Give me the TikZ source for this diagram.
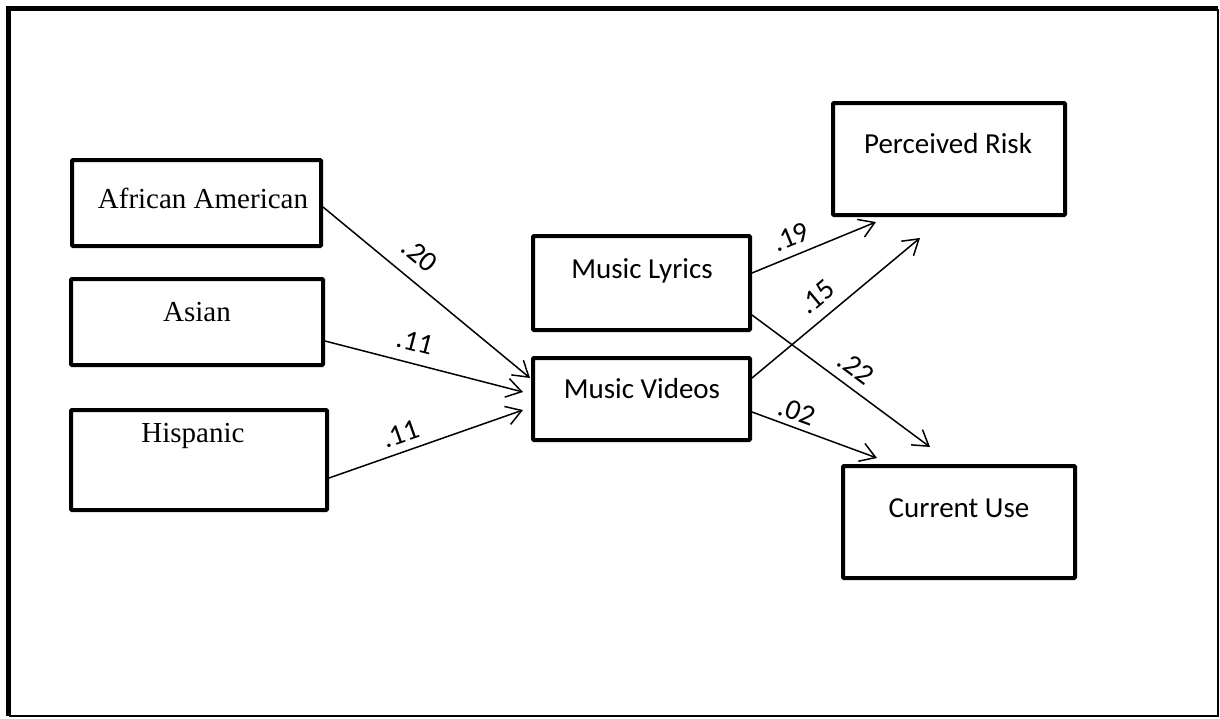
\documentclass[tikz,border=0pt]{standalone}
\usepackage{fontspec}
\setmainfont{Liberation Serif}
\newfontfamily\calibrifont{Carlito}
\usetikzlibrary{arrows.meta}
\tikzset{
  box/.style={draw, line width=4pt, rounded corners=1pt, inner sep=0pt},
  serifl/.style={anchor=base, inner sep=0pt, font=\fontsize{29}{34}\selectfont},
  sansl/.style={anchor=base, inner sep=0pt, font=\calibrifont\fontsize{29}{34}\selectfont},
  coef/.style={inner sep=0pt, font=\calibrifont\fontsize{29}{34}\selectfont},
  arr/.style={line width=1.5pt, -{Straight Barb[length=15pt, width=19pt]}},
}
\begin{document}
\begin{tikzpicture}[x=1pt, y=-1pt]
\useasboundingbox (0,0) rectangle (1220,718);
% frame
\draw[line width=5pt] (8.5,716) -- (8.5,8.5) -- (1218,8.5);
\draw[line width=1.5pt] (1218,8.5) -- (1218,716) -- (8.5,716);
% boxes
\node[box, minimum width=249pt, minimum height=86pt] (aa) at (196.5,203) {};
\node[box, minimum width=252pt, minimum height=86pt] (as) at (197,322) {};
\node[box, minimum width=256pt, minimum height=100pt] (hi) at (199,460) {};
\node[box, minimum width=217pt, minimum height=94pt] (ml) at (641.5,283) {};
\node[box, minimum width=217pt, minimum height=82pt] (mv) at (641.5,399) {};
\node[box, minimum width=232pt, minimum height=112pt] (pr) at (949,159) {};
\node[box, minimum width=232pt, minimum height=112pt] (cu) at (959,522) {};
% texts
\node[serifl] (aat) at (203,208) {African American};
\node[serifl] (ast) at (197,321) {Asian};
\node[serifl] (hit) at (193,442) {Hispanic};
\node[sansl] (mlt) at (642,278) {Music Lyrics};
\node[sansl] (mvt) at (642,398) {Music Videos};
\node[sansl] (prt) at (948,153) {Perceived Risk};
\node[sansl] (cut) at (959,517) {Current Use};
% arrow tips
\coordinate (t1) at (530,378);
\coordinate (t2) at (523,392);
\coordinate (t3) at (523,410);
\coordinate (t4) at (876,222);
\coordinate (t5) at (920,238);
\coordinate (t6) at (930,447);
\coordinate (t7) at (877,458);
% connectors
\draw[arr] ([yshift=-4pt]aa.east) -- (t1);
\draw[arr] ([yshift=-19pt]as.east) -- (t2);
\draw[arr] ([yshift=-18pt]hi.east) -- (t3);
\draw[arr] ([yshift=10pt]ml.east) -- (t4);
\draw[arr] ([yshift=21pt]mv.east) -- (t5);
\draw[arr] ([yshift=-32pt]ml.east) -- (t6);
\draw[arr] ([yshift=-13pt]mv.east) -- (t7);
% coefficients
\node[coef, rotate=-39.4] (c1) at (420,255) {.20};
\node[coef, rotate=-14.6] (c2) at (415,342) {.11};
\node[coef, rotate=19.4] (c3) at (401,434) {.11};
\node[coef, rotate=22] (c4) at (791,237) {.19};
\node[coef, rotate=39.8] (c5) at (817,297) {.15};
\node[coef, rotate=-37] (c6) at (856,368) {.22};
\node[coef, rotate=-20] (c7) at (797,412) {.02};
\end{tikzpicture}
\end{document}
